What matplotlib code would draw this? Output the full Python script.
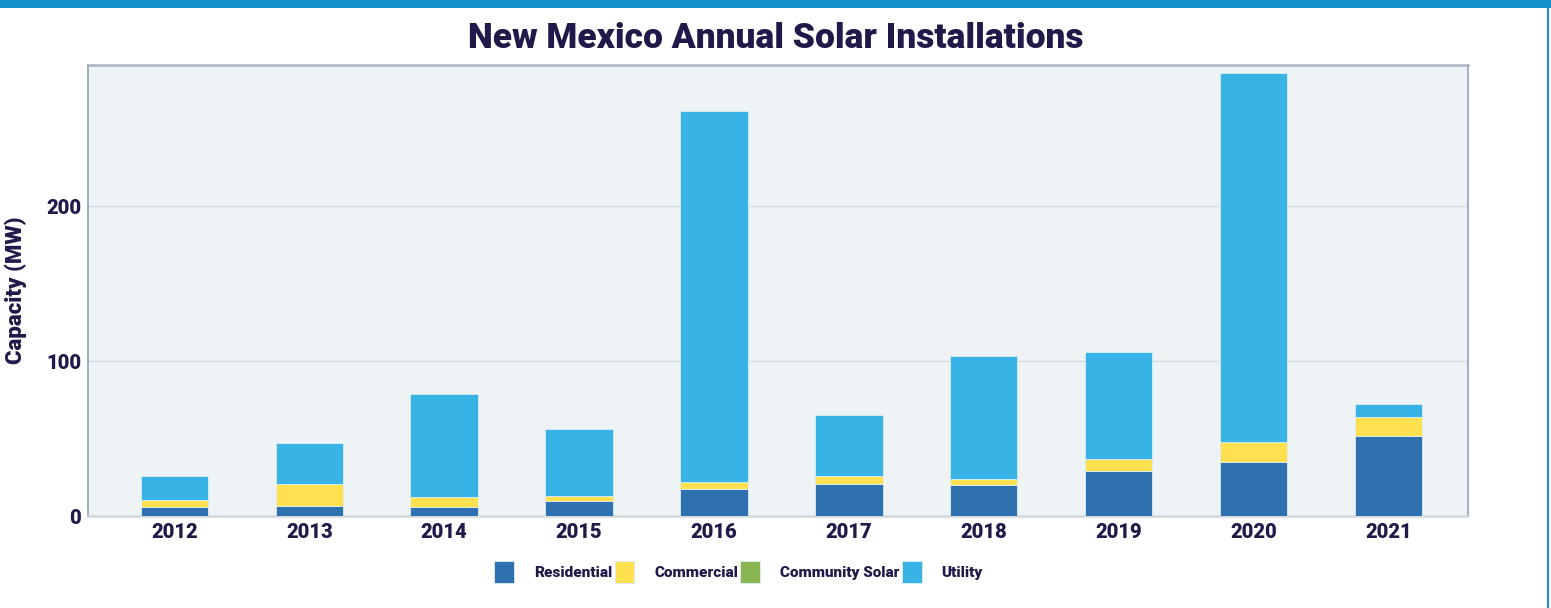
import matplotlib
matplotlib.use('Agg')
import matplotlib.pyplot as plt
from matplotlib.patches import Rectangle, Patch
import numpy as np

years = ['2012', '2013', '2014', '2015', '2016', '2017', '2018', '2019', '2020', '2021']
residential = [6.0, 6.6, 5.6, 9.9, 17.4, 20.6, 20.0, 29.2, 35.0, 51.6]
commercial = [4.3, 13.8, 6.4, 3.2, 4.3, 5.2, 3.7, 7.4, 12.7, 12.3]
community_solar = [0, 0, 0, 0, 0, 0, 0, 0, 0, 0]
utility = [15.5, 26.5, 66.9, 43.2, 239.6, 39.6, 79.3, 69.2, 237.9, 8.6]

series_names = ['Residential', 'Commercial', 'Community Solar', 'Utility']
series_colors = ['#2e71ae', '#ffe04e', '#8ab651', '#38b3e5']
navy = '#1f1a4a'

plt.rcParams['font.family'] = ['Roboto', 'DejaVu Sans']

fig = plt.figure(figsize=(15.51, 6.08), dpi=100)
fig.patch.set_facecolor('white')

# top banner and right edge line
fig.add_artist(Rectangle((0, 1 - 8 / 608), 1, 8 / 608, transform=fig.transFigure,
                         facecolor='#1290ca', edgecolor='none'))
fig.add_artist(Rectangle((1547 / 1551, 0), 2 / 1551, 1, transform=fig.transFigure,
                         facecolor='#1290ca', edgecolor='none'))

ax = fig.add_axes([88 / 1551, 92 / 608, 1380 / 1551, 451 / 608])
ax.set_facecolor('#eef3f6')

x = np.arange(len(years))
bottom = np.zeros(len(years))
for vals, name, col in zip([residential, commercial, community_solar, utility], series_names, series_colors):
    vals = np.array(vals)
    ax.bar(x, vals, width=0.5, bottom=bottom, color=col, edgecolor='#dcecf5',
           linewidth=0.6, label=name, zorder=3)
    bottom = bottom + vals

ax.set_xlim(-0.64, 9.59)
ax.set_ylim(0, 291)
ax.set_yticks([0, 100, 200])
ax.set_xticks(x)
ax.set_xticklabels(years)
ax.grid(axis='y', color='#d3dbe2', linewidth=1.0, zorder=0)
ax.tick_params(length=0, labelsize=14.5, labelcolor=navy, pad=5)
for lbl in ax.get_xticklabels() + ax.get_yticklabels():
    lbl.set_fontweight('heavy')

ax.spines['top'].set_color('#a9b4c0')
ax.spines['top'].set_linewidth(1.8)
ax.spines['left'].set_color('#8ea2b9')
ax.spines['left'].set_linewidth(1.2)
ax.spines['right'].set_color('#8ea2b9')
ax.spines['right'].set_linewidth(1.2)
ax.spines['bottom'].set_color('#d3d8dd')
ax.spines['bottom'].set_linewidth(1.8)

ax.set_ylabel('Capacity (MW)', fontsize=16, fontweight='heavy', color=navy)
ax.yaxis.set_label_coords(-0.044, 0.5)

fig.text(0.5, 1 - 38 / 608, 'New Mexico Annual Solar Installations', ha='center', va='center',
         fontsize=25.5, fontweight='black', color=navy)

handles = [Patch(facecolor=c, edgecolor='#dcecf5', linewidth=0.6) for c in series_colors]
leg = fig.legend(handles, series_names, loc='center', bbox_to_anchor=(738.5 / 1551, 36 / 608),
                 ncol=4, frameon=False, handlelength=1.3, handleheight=1.85,
                 handletextpad=1.3, columnspacing=0.15, borderpad=0,
                 prop={'size': 11, 'weight': 'heavy'})
for t in leg.get_texts():
    t.set_color(navy)

fig.savefig('out.png', dpi=100, facecolor='white')
plt.close(fig)
